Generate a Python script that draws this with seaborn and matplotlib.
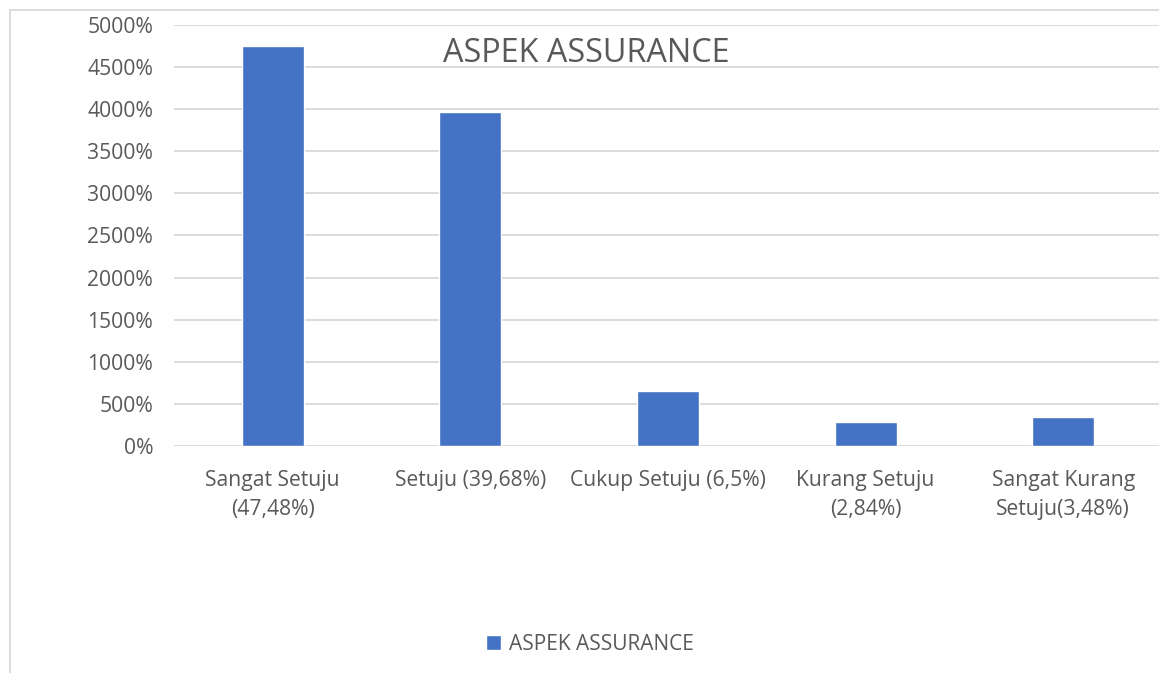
import matplotlib
matplotlib.use("Agg")
import matplotlib.pyplot as plt
from matplotlib.patches import Rectangle
from matplotlib.ticker import FuncFormatter, MultipleLocator
import seaborn as sns
import pandas as pd

# Survey responses for the assurance aspect
categories = [
    "Sangat Setuju\n(47,48%)",
    "Setuju (39,68%)",
    "Cukup Setuju (6,5%)",
    "Kurang Setuju\n(2,84%)",
    "Sangat Kurang\nSetuju(3,48%)",
]
values = [4748, 3968, 650, 284, 348]
series_name = "ASPEK ASSURANCE"

sns.set_theme(style="white")
plt.rcParams["font.family"] = ["Open Sans", "DejaVu Sans"]

W, H = 1159, 673
fig = plt.figure(figsize=(W / 100, H / 100), dpi=100)

# chart frame
fig.patches.append(Rectangle((10 / W, -0.05), 1.1, 1 - 10 / H + 0.05,
                             transform=fig.transFigure, fill=False,
                             edgecolor="#d9d9d9", linewidth=1.3, zorder=0))

left, right, top, bottom = 174, 1162, 25, 446
ax = fig.add_axes([left / W, 1 - bottom / H, (right - left) / W, (bottom - top) / H])

df = pd.DataFrame({"cat": categories, "val": values})
sns.barplot(data=df, x="cat", y="val", color="#4472C4", width=0.314,
            saturation=1, ax=ax, label=series_name, zorder=3)

ax.set_ylim(0, 5000)
ax.set_xlim(-0.5, len(categories) - 0.5)
ax.yaxis.set_major_locator(MultipleLocator(500))
ax.yaxis.set_major_formatter(FuncFormatter(lambda v, p: f"{v:.0f}%"))
ax.grid(axis="y", color="#d9d9d9", linewidth=1.3, zorder=0)
ax.set_axisbelow(True)
for s in ax.spines.values():
    s.set_visible(False)
ax.set_xlabel("")
ax.set_ylabel("")
ax.tick_params(axis="y", length=0, pad=15, labelsize=15.2, labelcolor="#595959")
ax.tick_params(axis="x", length=0, pad=17, labelsize=15.2, labelcolor="#595959")
for t in ax.get_xticklabels():
    t.set_linespacing(1.5)
if ax.legend_:
    ax.legend_.remove()

fig.text(586 / W, 1 - 53 / H, series_name, ha="center", va="center",
         fontsize=23.3, color="#595959")

handles, labels = ax.get_legend_handles_labels()
fig.legend(handles[:1], labels[:1], loc="center", bbox_to_anchor=(590 / W, 1 - 644 / H),
           frameon=False, fontsize=15, labelcolor="#595959",
           handlelength=0.7, handleheight=0.7, handletextpad=0.4)

fig.savefig("out.png", dpi=100)
